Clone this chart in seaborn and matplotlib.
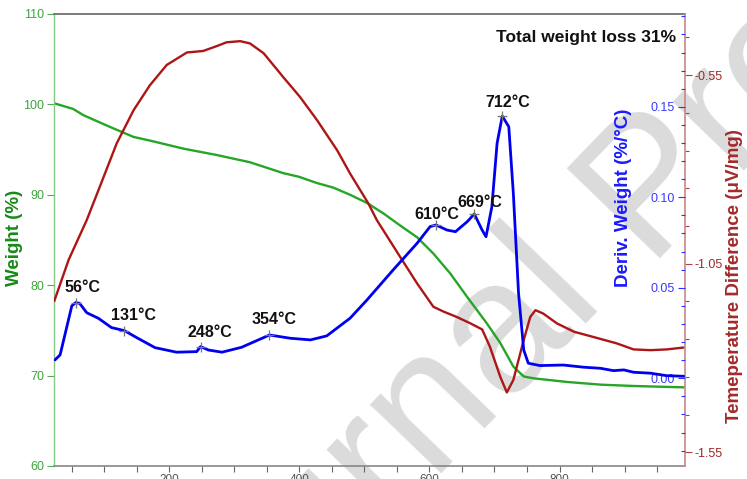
import numpy as np
import pandas as pd
import matplotlib
matplotlib.use("Agg")
import matplotlib.pyplot as plt
import seaborn as sns
from matplotlib.ticker import MultipleLocator, FixedLocator

# ---------------- data ----------------
# TGA weight curve (left axis)
weight_temp = [24, 52, 68, 109, 145, 170, 222, 273, 324, 375, 399, 427, 452, 478, 504,
               530, 555, 581, 606, 632, 658, 688, 709, 729, 745, 760, 811, 863, 914, 991]
weight_pct = [100.1, 99.5, 98.8, 97.5, 96.4, 96.0, 95.1, 94.4, 93.6, 92.4, 92.0, 91.3, 90.8,
              90.0, 89.1, 87.9, 86.6, 85.3, 83.5, 81.3, 78.7, 75.8, 73.6, 71.0, 69.9, 69.7,
              69.3, 69.0, 68.85, 68.7]

# DTG derivative weight curve (blue axis)
dtg_temp = [24, 32, 50, 56, 62, 73, 91, 111, 131, 150, 178, 211, 242, 248, 260, 281, 311,
            354, 386, 417, 442, 478, 504, 545, 581, 601, 610, 627, 640, 658, 669, 681, 687,
            696, 704, 712, 722, 729, 737, 745, 752, 770, 806, 837, 863, 883, 899, 914, 940,
            965, 991]
dtg_val = [0.0101, 0.0129, 0.0400, 0.0418, 0.0414, 0.0362, 0.0331, 0.0280, 0.0263, 0.0224,
           0.0169, 0.0144, 0.0147, 0.0175, 0.0156, 0.0144, 0.0171, 0.0239, 0.0221, 0.0212,
           0.0234, 0.0332, 0.0433, 0.0602, 0.0746, 0.0838, 0.0847, 0.0819, 0.0810, 0.0865,
           0.0908, 0.0819, 0.0782, 0.0948, 0.1298, 0.1449, 0.1390, 0.1022, 0.0470, 0.0156,
           0.0083, 0.0070, 0.0073, 0.0061, 0.0055, 0.0042, 0.0046, 0.0033, 0.0028, 0.0014,
           0.0011]

# DTA temperature difference curve (red axis)
dta_temp = [23, 45, 73, 93, 119, 145, 170, 196, 227, 252, 273, 288, 309, 324, 345, 375, 401,
            427, 458, 478, 506, 519, 555, 581, 606, 622, 642, 663, 681, 693, 709, 719, 729,
            745, 755, 763, 775, 796, 822, 852, 888, 914, 940, 965, 991]
dta_val = [-1.149, -1.040, -0.934, -0.846, -0.731, -0.643, -0.577, -0.523, -0.490, -0.486,
           -0.473, -0.463, -0.460, -0.466, -0.492, -0.555, -0.608, -0.669, -0.749, -0.811,
           -0.890, -0.934, -1.032, -1.102, -1.164, -1.177, -1.191, -1.208, -1.224, -1.270,
           -1.350, -1.391, -1.358, -1.252, -1.191, -1.173, -1.182, -1.208, -1.230, -1.244,
           -1.261, -1.277, -1.279, -1.277, -1.272]

# DTG peaks
peak_temp = [56, 131, 248, 354, 610, 669, 712]
peak_val = [0.0418, 0.0263, 0.0175, 0.0239, 0.0847, 0.0908, 0.1449]
peak_labels = ["56°C", "131°C", "248°C", "354°C", "610°C", "669°C", "712°C"]

x_ticks = [200, 400, 600, 800]
x_tick_labels = ["200", "400", "600", "800"]
w_ticks = [60, 70, 80, 90, 100, 110]
w_tick_labels = ["60", "70", "80", "90", "100", "110"]
d_ticks = [0.00, 0.05, 0.10, 0.15]
d_tick_labels = ["0.00", "0.05", "0.10", "0.15"]
t_ticks = [-1.55, -1.05, -0.55]
t_tick_labels = ["-1.55", "-1.05", "-0.55"]

total_text = "Total weight loss 31%"
watermark_left = "Journal"
watermark_right = "Pre-proof"

# ---------------- styling / layout ----------------
label_offsets_px = [(7, 15), (9, 15), (9, 14), (5, 15), (1, 10), (5, 11.5), (5, 13.5)]

GREEN = "#26a626"
BLUE = "#0000f0"
RED = "#ad1616"

sns.set_style("white")
plt.rcParams["font.family"] = ["Liberation Sans", "DejaVu Sans"]

fig = plt.figure(figsize=(7.47, 4.79), dpi=100)
fig.patch.set_facecolor("white")
W, H = 747.0, 479.0
ax = fig.add_axes([54 / W, 1 - 466 / H, 631 / W, 452 / H])
ax2 = ax.twinx()
ax3 = ax.twinx()
for a in (ax, ax2, ax3):
    a.set_facecolor("none")

# watermark
wm_kw = dict(rotation=46, rotation_mode="anchor", va="baseline", fontsize=135,
             color="#dbdbdb", zorder=-5)
fig.text(606 / W, 1 - 300 / H, watermark_left, ha="right", **wm_kw)
fig.text(645 / W, 1 - 258 / H, watermark_right, ha="left", **wm_kw)

df_w = pd.DataFrame({"T": weight_temp, "w": weight_pct})
df_d = pd.DataFrame({"T": dtg_temp, "d": dtg_val})
df_t = pd.DataFrame({"T": dta_temp, "t": dta_val})

sns.lineplot(data=df_w, x="T", y="w", ax=ax, color=GREEN, lw=1.7)
sns.lineplot(data=df_t, x="T", y="t", ax=ax3, color=RED, lw=1.7)
sns.lineplot(data=df_d, x="T", y="d", ax=ax2, color=BLUE, lw=2.0)
ax2.set_zorder(3)
ax3.set_zorder(2)

# limits
ax.set_xlim(22.6, 993)
ax.set_ylim(60, 110)
ax2.set_ylim(-0.0485, 0.2013)
ax3.set_ylim(-1.586, -0.388)

# x axis
ax.set_xticks(x_ticks)
ax.set_xticklabels(x_tick_labels)
ax.xaxis.set_minor_locator(MultipleLocator(50))
ax.tick_params(axis="x", which="both", direction="out", length=4, width=0.8,
               color="#666666", labelcolor="#555555", labelsize=8.5, pad=2, bottom=True)
ax.set_xlabel("")

# left axis
ax.set_yticks(w_ticks)
ax.set_yticklabels(w_tick_labels)
ax.tick_params(axis="y", which="major", direction="out", length=5, width=0.8,
               color="#55aa55", labelcolor="#3da53d", labelsize=9, pad=2, left=True)
ax.set_ylabel("Weight (%)", color="#178a17", fontsize=13.5, fontweight="bold")
ax.yaxis.set_label_coords(-0.062, 0.504)
ax.yaxis.label.set_va("center")

# blue axis (ticks inside, labels inside)
ax2.set_yticks(d_ticks)
ax2.set_yticklabels(d_tick_labels)
ax2.yaxis.set_minor_locator(MultipleLocator(0.01))
ax2.tick_params(axis="y", which="major", direction="in", length=5, width=0.8,
                color="#3333ff", labelcolor="#3a3aff", labelsize=9, pad=-7.5, right=True)
ax2.tick_params(axis="y", which="minor", direction="in", length=3, width=0.8,
                color="#3333ff", right=True)
for lbl in ax2.get_yticklabels():
    lbl.set_horizontalalignment("right")
ax2.set_ylabel("Deriv. Weight (%/°C)", color="#1a1aff", fontsize=13.5, fontweight="bold")
ax2.yaxis.set_label_coords(0.902, 0.593)
ax2.yaxis.label.set_va("center")

# red axis (ticks outside)
ax3.set_yticks(t_ticks)
ax3.set_yticklabels(t_tick_labels)
ax3.yaxis.set_minor_locator(FixedLocator(list(np.arange(-1.55, -0.34, 0.1))))
ax3.tick_params(axis="y", which="major", direction="out", length=5, width=0.8,
                color="#b04040", labelcolor="#a02828", labelsize=9, pad=2, right=True)
ax3.tick_params(axis="y", which="minor", direction="out", length=3, width=0.8,
                color="#b04040", right=True)
ax3.set_ylabel("Temeperature Difference (μV/mg)", color="#a32a2a", fontsize=13.5,
               fontweight="bold")
ax3.yaxis.set_label_coords(1.079, 0.42)
ax3.yaxis.label.set_va("center")

# spines
for a in (ax, ax2, ax3):
    for s in a.spines.values():
        s.set_visible(False)
ax.spines["left"].set_visible(True)
ax.spines["left"].set_color("#86c986")
ax.spines["left"].set_linewidth(1.0)
ax.spines["bottom"].set_visible(True)
ax.spines["bottom"].set_color("#888888")
ax.spines["bottom"].set_linewidth(1.2)
ax.spines["top"].set_visible(True)
ax.spines["top"].set_color("#666666")
ax.spines["top"].set_linewidth(1.2)
ax3.spines["right"].set_visible(True)
ax3.spines["right"].set_color("#c98888")
ax3.spines["right"].set_linewidth(1.2)

# peak markers + labels
sns.scatterplot(x=peak_temp, y=peak_val, ax=ax2, marker="+", s=55, color="#777777",
                linewidth=0.9, zorder=5)
for T, v, lab, (dx, dy) in zip(peak_temp, peak_val, peak_labels, label_offsets_px):
    ax2.annotate(lab, xy=(T, v), xytext=(dx, dy), textcoords="offset pixels",
                 ha="center", va="center", fontsize=11.5, fontweight="bold", color="#111111")

ax.text(0.986, 0.949, total_text, transform=ax.transAxes, ha="right", va="center",
        fontsize=12.5, fontweight="bold", color="#111111")

fig.savefig("out.png", dpi=100, facecolor="white")
